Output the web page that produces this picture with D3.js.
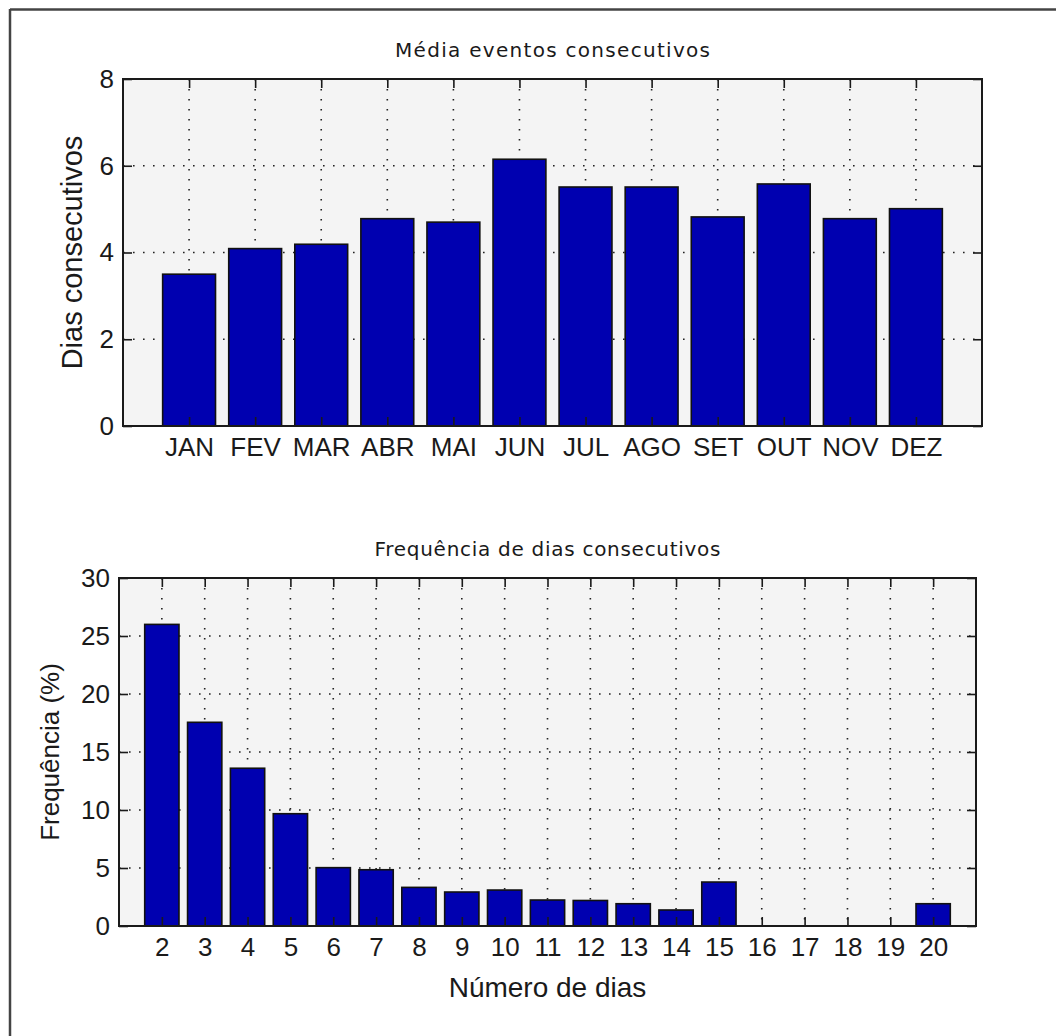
<!DOCTYPE html>
<html>
<head>
<meta charset="utf-8">
<script src="https://cdn.jsdelivr.net/npm/d3@7"></script>
<style>
  body { margin: 0; background: #fff; }
  svg { display: block; }
  text { fill: #1a1a1a; }
</style>
</head>
<body>
<svg id="fig" width="1056" height="1036"></svg>
<script>
// dados
const meses = ["JAN", "FEV", "MAR", "ABR", "MAI", "JUN", "JUL", "AGO", "SET", "OUT", "NOV", "DEZ"];
const mediaEventos = [3.50, 4.09, 4.19, 4.78, 4.70, 6.15, 5.51, 5.51, 4.82, 5.58, 4.78, 5.01];
const diasTicks = [0, 2, 4, 6, 8];

const numDias = [2, 3, 4, 5, 6, 7, 8, 9, 10, 11, 12, 13, 14, 15, 16, 17, 18, 19, 20];
const frequencia = [26.0, 17.56, 13.6, 9.68, 5.03, 4.85, 3.33, 2.93, 3.10, 2.24, 2.20, 1.92, 1.38, 3.79, 0, 0, 0, 0, 1.92];
const freqTicks = [0, 5, 10, 15, 20, 25, 30];

const svg = d3.select("#fig");
const barColor = "#0000b0";
const font = "'Liberation Sans', Arial, sans-serif";

// moldura da figura (so topo e esquerda visiveis)
svg.append("line").attr("x1", 10).attr("x2", 1056).attr("y1", 9.5).attr("y2", 9.5)
    .attr("stroke", "#444").attr("stroke-width", 2.5);
svg.append("line").attr("x1", 10).attr("x2", 10).attr("y1", 9).attr("y2", 1036)
    .attr("stroke", "#444").attr("stroke-width", 2.5);

function barChart(opts) {
    const g = svg.append("g");
    const x = d3.scaleLinear().domain(opts.xDomain).range([opts.left, opts.right]);
    const y = d3.scaleLinear().domain(opts.yDomain).range([opts.bottom, opts.top]);
    const w = opts.right - opts.left, h = opts.bottom - opts.top;

    g.append("rect")
        .attr("x", opts.left).attr("y", opts.top)
        .attr("width", w).attr("height", h)
        .attr("fill", "#f4f4f4");

    // grade pontilhada
    const grid = g.append("g").attr("stroke", "#222").attr("stroke-width", 1.6)
        .attr("stroke-dasharray", "1.6,8.4");
    grid.selectAll(".gx").data(opts.xTicks).join("line")
        .attr("x1", d => x(d)).attr("x2", d => x(d))
        .attr("y1", opts.top).attr("y2", opts.bottom);
    grid.selectAll(".gy").data(opts.yTicks).join("line")
        .attr("x1", opts.left).attr("x2", opts.right)
        .attr("y1", d => y(d)).attr("y2", d => y(d));

    // barras
    g.append("g").selectAll("rect").data(opts.values).join("rect")
        .attr("x", (d, i) => x(opts.xTicks[i] - 0.4))
        .attr("width", x(0.8) - x(0))
        .attr("y", d => y(d))
        .attr("height", d => y(0) - y(d))
        .attr("fill", barColor)
        .attr("stroke", "#111")
        .attr("stroke-width", 1.6)
        .style("display", d => d > 0 ? null : "none");

    // eixos com ticks para dentro
    const axB = g.append("g").attr("transform", `translate(0,${opts.bottom})`)
        .call(d3.axisBottom(x).tickValues(opts.xTicks).tickFormat(opts.xFormat)
            .tickSizeInner(-9).tickSizeOuter(0).tickPadding(12));
    const axT = g.append("g").attr("transform", `translate(0,${opts.top})`)
        .call(d3.axisTop(x).tickValues(opts.xTicks).tickFormat("")
            .tickSizeInner(-9).tickSizeOuter(0));
    const axL = g.append("g").attr("transform", `translate(${opts.left},0)`)
        .call(d3.axisLeft(y).tickValues(opts.yTicks).tickFormat(d3.format("d"))
            .tickSizeInner(-9).tickSizeOuter(0).tickPadding(9));
    const axR = g.append("g").attr("transform", `translate(${opts.right},0)`)
        .call(d3.axisRight(y).tickValues(opts.yTicks).tickFormat("")
            .tickSizeInner(-9).tickSizeOuter(0));
    [axB, axT, axL, axR].forEach(a => {
        a.select(".domain").remove();
        a.selectAll(".tick line").attr("stroke", "#1a1a1a").attr("stroke-width", 1.6);
        a.selectAll("text").attr("font-family", font).attr("font-size", opts.tickSize)
            .attr("fill", "#1a1a1a");
    });

    g.append("rect")
        .attr("x", opts.left).attr("y", opts.top)
        .attr("width", w).attr("height", h)
        .attr("fill", "none").attr("stroke", "#1a1a1a").attr("stroke-width", 2);

    // titulo
    g.append("text")
        .attr("x", (opts.left + opts.right) / 2).attr("y", opts.top - 22)
        .attr("text-anchor", "middle")
        .attr("font-family", "'DejaVu Sans', sans-serif").attr("font-size", 20)
        .attr("textLength", opts.titleLen).attr("lengthAdjust", "spacing")
        .text(opts.title);

    // rotulo y
    g.append("text")
        .attr("transform", `translate(${opts.yLabelX},${(opts.top + opts.bottom) / 2}) rotate(-90)`)
        .attr("text-anchor", "middle")
        .attr("font-family", font).attr("font-size", opts.yLabelSize)
        .text(opts.yLabel);

    if (opts.xLabel) {
        g.append("text")
            .attr("x", (opts.left + opts.right) / 2).attr("y", opts.xLabelY)
            .attr("text-anchor", "middle")
            .attr("font-family", font).attr("font-size", 28)
            .text(opts.xLabel);
    }
}

barChart({
    left: 123, right: 982, top: 79, bottom: 426,
    xDomain: [0, 13], yDomain: [0, 8],
    xTicks: meses.map((d, i) => i + 1),
    xFormat: i => meses[i - 1],
    yTicks: diasTicks,
    values: mediaEventos,
    tickSize: 26,
    title: "Média eventos consecutivos", titleLen: 315,
    yLabel: "Dias consecutivos", yLabelX: 82, yLabelSize: 29
});

barChart({
    left: 119, right: 976, top: 578, bottom: 926,
    xDomain: [1, 21], yDomain: [0, 30],
    xTicks: numDias,
    xFormat: d => d,
    yTicks: freqTicks,
    values: frequencia,
    tickSize: 26,
    title: "Frequência de dias consecutivos", titleLen: 346,
    yLabel: "Frequência (%)", yLabelX: 59, yLabelSize: 26,
    xLabel: "Número de dias", xLabelY: 997
});
</script>
</body>
</html>
